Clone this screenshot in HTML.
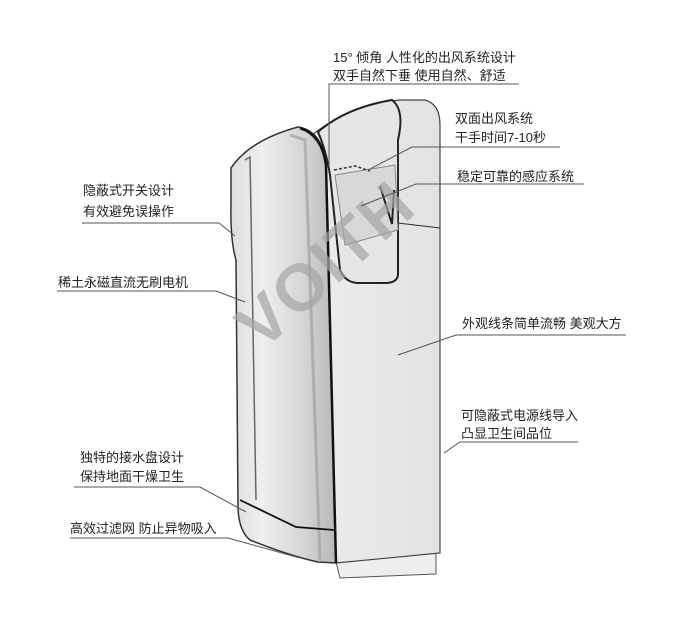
<!DOCTYPE html>
<html><head><meta charset="utf-8"><style>
html,body{margin:0;padding:0;background:#fff;}
svg{display:block}
text{font-family:"Liberation Sans","Noto Sans CJK SC",sans-serif;font-size:13px;fill:#222;}
</style></head><body>
<svg width="700" height="624" viewBox="0 0 700 624" xmlns="http://www.w3.org/2000/svg">
<defs>
<linearGradient id="g1" x1="0" x2="1"><stop offset="0" stop-color="#dedede"/><stop offset="0.3" stop-color="#efefef"/><stop offset="0.7" stop-color="#d4d4d4"/><stop offset="1" stop-color="#b8b8b8"/></linearGradient>
<linearGradient id="g2" x1="0" x2="1"><stop offset="0" stop-color="#ececec"/><stop offset="1" stop-color="#e2e2e2"/></linearGradient>
</defs>
<path d="M336,562 L436,552 L436,574 L340,578 Z" fill="#eee" stroke="#555" stroke-width="1"/>
<path d="M312,135 Q350,105 400,100 L425,100 Q440,104 440,125 L440,553 L336,563 Z" fill="url(#g2)" stroke="#444" stroke-width="1.2"/>
<path d="M231,168 Q250,140 298,127 Q320,130 326,160 L336,563 L318,562 Q290,556 250,540 Q238,530 238,505 L236,260 Q230,240 231,200 Z" fill="url(#g1)" stroke="#333" stroke-width="1.5"/>
<path d="M245,160 L250,157 L256,500" fill="none" stroke="#666" stroke-width="1.5"/>
<path d="M300,128 Q322,135 326,165 L336,563" fill="none" stroke="#111" stroke-width="2.5"/>
<path d="M290,135 L305,140 L320,560" fill="none" stroke="#999" stroke-width="3" opacity="0.6"/>
<path d="M240,500 L296,527 L334,530" fill="none" stroke="#111" stroke-width="1.8"/>
<path d="M318,132 Q345,108 392,100 Q405,110 398,140 L398,275 Q397,283 385,283 L357,283 Q345,282 340,270 L330,175 Q326,150 318,132 Z" fill="#e6e6e6" stroke="#222" stroke-width="2"/>
<path d="M335,175 L395,165 L398,230 L345,245 Z" fill="#d8d8d8" stroke="#888" stroke-width="1"/>
<path d="M380,186 L392,224 L394,190" fill="none" stroke="#222" stroke-width="2"/>
<path d="M334,170 L355,166 L370,171" fill="none" stroke="#333" stroke-width="1.5" stroke-dasharray="3,2"/>
<path d="M398,140 L398,223 L440,228" fill="none" stroke="#333" stroke-width="1"/>
<text x="0" y="0" transform="translate(262,352) rotate(-42)" style="font-size:66px;fill:#a5a5a5;opacity:0.7;font-weight:bold;letter-spacing:2px">VOITH</text>
<g fill="none" stroke="#555" stroke-width="1">
<path d="M519,84 L329,84 L329,165"/>
<path d="M560,147 L412,147 L368,170"/>
<path d="M584,184 L416,184 L361,206"/>
<path d="M82,223 L219,223 L235,236"/>
<path d="M57,291 L216,291 L245,302"/>
<path d="M626,335 L456,335 L398,355"/>
<path d="M578,442 L460,442 L444,453"/>
<path d="M74,487 L200,487 L246,512"/>
<path d="M70,538 L228,538 L300,558"/>
</g>
<text x="333" y="62">15° 倾角 人性化的出风系统设计</text>
<text x="333" y="80">双手自然下垂 使用自然、舒适</text>
<text x="455" y="123">双面出风系统</text>
<text x="455" y="142">干手时间7-10秒</text>
<text x="457" y="181">稳定可靠的感应系统</text>
<text x="83" y="195">隐蔽式开关设计</text>
<text x="83" y="216">有效避免误操作</text>
<text x="58" y="287">稀土永磁直流无刷电机</text>
<text x="462" y="328">外观线条简单流畅 美观大方</text>
<text x="461" y="420">可隐蔽式电源线导入</text>
<text x="461" y="438">凸显卫生间品位</text>
<text x="80" y="462">独特的接水盘设计</text>
<text x="80" y="481">保持地面干燥卫生</text>
<text x="70" y="533">高效过滤网 防止异物吸入</text>
</svg>
</body></html>
